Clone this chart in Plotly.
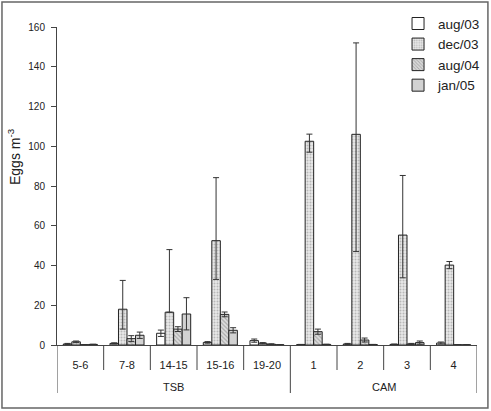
import plotly.graph_objects as go

groups = ["TSB"] * 5 + ["CAM"] * 4
sites = ["5-6", "7-8", "14-15", "15-16", "19-20", "1", "2", "3", "4"]
series_names = ["aug/03", "dec/03", "aug/04", "jan/05"]

aug03 = [0.5, 0.8, 5.9, 1.3, 2.2, 0.2, 0.5, 0.3, 1.0]
aug03_err = [0.3, 0.3, 1.6, 0.4, 0.8, 0.1, 0.3, 0.2, 0.5]
dec03 = [1.6, 18.0, 16.5, 52.5, 0.9, 102.5, 106.0, 55.3, 40.2]
dec03_err_plus = [0.4, 14.5, 31.5, 31.7, 0.3, 3.6, 46.0, 30.0, 1.8]
dec03_err_minus = [0.4, 10.0, 0.0, 19.5, 0.3, 5.5, 59.0, 21.5, 1.8]
aug04 = [0.1, 3.2, 8.0, 15.4, 0.4, 6.7, 2.5, 0.5, 0.1]
aug04_err = [0.1, 1.5, 1.2, 1.2, 0.2, 1.3, 1.0, 0.3, 0.1]
jan05 = [0.3, 4.9, 15.6, 7.4, 0.1, 0.3, 0.2, 1.2, 0.1]
jan05_err_plus = [0.1, 1.6, 8.2, 1.3, 0.1, 0.1, 0.1, 0.8, 0.1]
jan05_err_minus = [0.1, 1.6, 8.0, 1.3, 0.1, 0.1, 0.1, 0.8, 0.1]

FONT = "Liberation Sans, Arial, sans-serif"
AX = "#444"

def err(plus, minus=None):
    d = dict(type="data", array=plus, color="#333", thickness=1, width=3, visible=True)
    if minus is not None:
        d["symmetric"] = False
        d["arrayminus"] = minus
    return d

line = dict(color="#222", width=1)
fig = go.Figure()
fig.add_bar(x=sites, y=aug03, name=series_names[0], error_y=err(aug03_err),
            marker=dict(color="white", line=line))
fig.add_bar(x=sites, y=dec03, name=series_names[1], error_y=err(dec03_err_plus, dec03_err_minus),
            marker=dict(color="#dcdcdc", line=line,
                        pattern=dict(shape=".", size=3, solidity=0.35, fgcolor="#888", bgcolor="#e8e8e8")))
fig.add_bar(x=sites, y=aug04, name=series_names[2], error_y=err(aug04_err),
            marker=dict(color="#cfcfcf", line=line,
                        pattern=dict(shape="\\", size=3, solidity=0.4, fgcolor="#777", bgcolor="#dddddd")))
fig.add_bar(x=sites, y=jan05, name=series_names[3], error_y=err(jan05_err_plus, jan05_err_minus),
            marker=dict(color="#d2d2d2", line=line))

# category boundaries and group labels (derived from the category lists)
plot_w = 491 - 57 - 14
plot_h = 411 - 27 - 66
short = -25 / plot_h
long_ = -48 / plot_h
shapes = [dict(type="rect", xref="paper", yref="paper",
               x0=-0.131, x1=1.026, y0=-0.198, y1=1.0786,
               line=dict(color="#666", width=1.5), fillcolor="rgba(0,0,0,0)", layer="below")]
group_bounds = set()
unique_groups = []
for i, g in enumerate(groups):
    if i == 0 or groups[i - 1] != g:
        group_bounds.add(i)
        unique_groups.append((g, i))
group_bounds.add(len(groups))
for b in range(len(sites) + 1):
    y0 = long_ if b in group_bounds else short
    shapes.append(dict(type="line", xref="x", yref="paper", x0=b - 0.5, x1=b - 0.5,
                       y0=0, y1=y0, line=dict(color=AX, width=1)))
annotations = []
for k, (g, start) in enumerate(unique_groups):
    end = unique_groups[k + 1][1] if k + 1 < len(unique_groups) else len(groups)
    annotations.append(dict(text=g, xref="x", yref="paper", x=(start + end - 1) / 2,
                            y=-42 / plot_h, yanchor="middle", showarrow=False,
                            font=dict(family=FONT, size=11, color="#222")))
annotations.append(dict(text="Eggs m<sup>-3</sup>", xref="paper", yref="paper",
                        x=-43 / plot_w, y=188 / plot_h, xanchor="center", yanchor="middle",
                        textangle=-90, showarrow=False,
                        font=dict(family=FONT, size=14, color="#222")))

fig.update_layout(
    width=491, height=411,
    margin=dict(l=57, r=14, t=27, b=66, autoexpand=False),
    paper_bgcolor="white", plot_bgcolor="white",
    font=dict(family=FONT, size=11, color="#222"),
    barmode="group", bargap=0.27, bargroupgap=0,
    showlegend=True,
    legend=dict(x=0.812, xanchor="left", y=1.059, yanchor="top",
                bgcolor="rgba(0,0,0,0)", font=dict(size=13.5),
                itemwidth=30, tracegroupgap=0),
    shapes=shapes, annotations=annotations,
)
fig.update_yaxes(range=[0, 160], dtick=20, showgrid=False, zeroline=False,
                 showline=True, linecolor=AX, linewidth=1,
                 ticks="outside", ticklen=5, tickcolor=AX, tickfont=dict(size=10),
                 ticklabelstandoff=4, automargin=False)
fig.update_xaxes(type="category", range=[-0.5, len(sites) - 0.5], showgrid=False,
                 showline=True, linecolor=AX, linewidth=1,
                 ticks="", ticklabelstandoff=10, tickfont=dict(size=11), automargin=False)

fig.write_html("out.html")
